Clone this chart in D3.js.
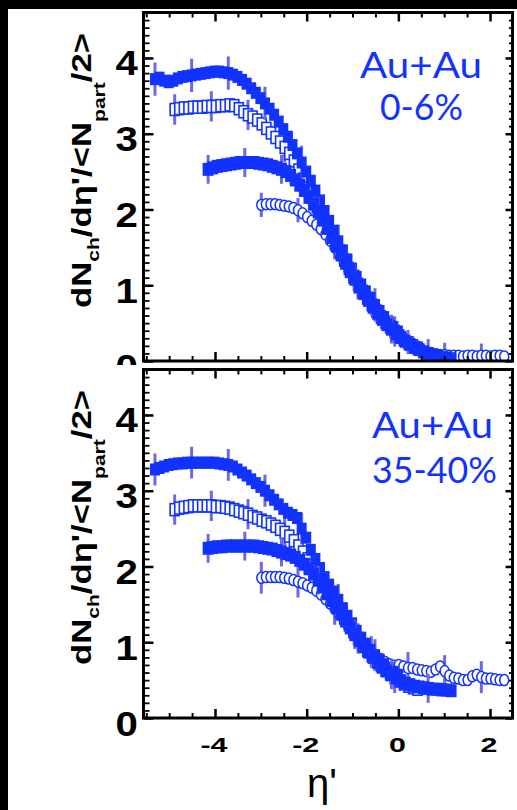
<!DOCTYPE html>
<html><head><meta charset="utf-8">
<script src="https://cdn.jsdelivr.net/npm/d3@7"></script>
<style>html,body{margin:0;padding:0;background:#000;overflow:hidden}</style>
</head><body>
<svg id="chart" width="517" height="810"></svg>
<script>
// ---------------- data ----------------
const seriesNames = ["200 GeV", "130 GeV", "62.4 GeV", "19.6 GeV"];
const startEta = [-5.31, -4.88, -4.15, -2.99];   // eta' of first bin per series
const binWidth = 0.1;
const errEvery = 8;                               // error bar on every 8th bin
const xMajorTicks = [-4, -2, 0, 2];
const xMinorTicks = [-5.5, -5, -4.5, -3.5, -3, -2.5, -1.5, -1, -0.5, 0.5, 1, 1.5];
const yMajorTicks = [0, 1, 2, 3, 4];
const yTickLabels = ["0", "1", "2", "3", "4"];
const xTickLabels = ["-4", "-2", "0", "2"];
const panelLabels = [["Au+Au", "0-6%"], ["Au+Au", "35-40%"]];

// Au+Au 0-6%
const central200 = [3.72,3.74,3.70,3.68,3.70,3.73,3.75,3.76,3.77,3.78,
  3.79,3.80,3.81,3.82,3.82,3.81,3.80,3.78,3.75,3.71,
  3.66,3.60,3.54,3.47,3.40,3.33,3.25,3.16,3.06,2.96,
  2.85,2.74,2.62,2.50,2.38,2.25,2.12,1.98,1.85,1.72,
  1.58,1.46,1.34,1.22,1.11,1.01,0.92,0.83,0.74,0.66,
  0.58,0.51,0.45,0.39];
const central130 = [3.32,3.33,3.34,3.34,3.35,3.35,3.35,3.36,3.36,3.36,
  3.37,3.37,3.38,3.37,3.33,3.29,3.25,3.22,3.18,3.13,
  3.07,3.01,2.95,2.89,2.82,2.74,2.64,2.52,2.40,2.28,
  2.16,2.04,1.92,1.80,1.68,1.56,1.45,1.33,1.22,1.11,
  1.01,0.92,0.83,0.74,0.66,0.58,0.51,0.45,0.39,0.33,
  0.28,0.24,0.20,0.17];
const central62 = [2.53,2.55,2.57,2.58,2.59,2.60,2.61,2.62,2.62,2.62,
  2.62,2.61,2.60,2.59,2.57,2.55,2.53,2.50,2.45,2.39,
  2.32,2.25,2.16,2.07,1.97,1.86,1.75,1.63,1.52,1.40,
  1.29,1.18,1.08,0.98,0.89,0.80,0.71,0.63,0.55,0.48,
  0.42,0.36,0.31,0.26,0.22,0.18,0.15,0.12,0.10,0.08,
  0.06,0.05,0.04,0.03];
const central19 = [2.06,2.07,2.07,2.07,2.06,2.05,2.04,2.02,1.99,1.95,
  1.90,1.85,1.80,1.74,1.67,1.59,1.50,1.41,1.31,1.21,
  1.11,1.02,0.93,0.84,0.76,0.68,0.60,0.53,0.46,0.40,
  0.35,0.30,0.25,0.21,0.18,0.15,0.12,0.10,0.09,0.08,
  0.08,0.07,0.07,0.07,0.06,0.07,0.07,0.06,0.07,0.07,
  0.06,0.07,0.07,0.06];
const centralErr = [0.22, 0.20, 0.19, 0.16];

// Au+Au 35-40%
const periph200 = [3.28,3.30,3.32,3.34,3.35,3.36,3.36,3.37,3.37,3.37,
  3.37,3.37,3.37,3.37,3.36,3.35,3.34,3.32,3.28,3.24,
  3.20,3.15,3.10,3.05,3.00,2.94,2.88,2.82,2.76,2.71,
  2.68,2.64,2.50,2.38,2.22,2.10,1.98,1.86,1.76,1.67,
  1.56,1.45,1.35,1.25,1.15,1.06,0.98,0.90,0.83,0.77,
  0.71,0.66,0.61,0.57];
const periph130 = [2.75,2.77,2.78,2.79,2.80,2.80,2.80,2.80,2.80,2.79,
  2.79,2.78,2.77,2.75,2.73,2.71,2.69,2.66,2.64,2.61,
  2.59,2.56,2.53,2.49,2.45,2.40,2.34,2.27,2.19,2.10,
  2.01,1.92,1.82,1.72,1.62,1.52,1.42,1.32,1.23,1.14,
  1.05,0.97,0.89,0.82,0.75,0.69,0.63,0.58,0.53,0.49,
  0.45,0.42,0.40,0.38];
const periph62 = [2.24,2.25,2.26,2.26,2.27,2.27,2.27,2.27,2.27,2.27,
  2.27,2.26,2.25,2.24,2.23,2.21,2.19,2.17,2.15,2.12,
  2.08,2.03,1.97,1.90,1.82,1.73,1.64,1.55,1.46,1.37,
  1.28,1.19,1.10,1.02,0.94,0.87,0.80,0.73,0.67,0.62,
  0.57,0.53,0.49,0.46,0.44,0.42,0.41,0.40,0.39,0.38,
  0.38,0.37,0.37,0.36];
const periph19 = [1.85,1.86,1.86,1.86,1.86,1.85,1.84,1.82,1.80,1.78,
  1.75,1.72,1.68,1.63,1.57,1.51,1.44,1.37,1.29,1.21,
  1.13,1.06,0.99,0.93,0.87,0.82,0.78,0.74,0.71,0.69,
  0.70,0.68,0.66,0.66,0.64,0.63,0.62,0.61,0.64,0.68,
  0.62,0.56,0.53,0.52,0.50,0.50,0.55,0.57,0.54,0.52,
  0.52,0.51,0.50,0.50];
const periphErr = [0.21, 0.20, 0.19, 0.21];

// ---------------- drawing ----------------
const markerColor = "#1232ff";
const errColor = "#6d68e6";
const svg = d3.select("#chart");
svg.append("rect").attr("x",0).attr("y",0).attr("width",517).attr("height",810).attr("fill","#000");
svg.append("rect").attr("x",8).attr("y",9).attr("width",509).attr("height",801).attr("fill","#fff");

const left = 143.5, right = 512.5;
const x = d3.scaleLinear().domain([-5.56, 2.49]).range([left, right]);

const panels = [
  {top: 12.5, bottom: 361, data: [central200, central130, central62, central19], err: centralErr,
   labels: panelLabels[0], lab: [[360,78,122],[380,120,83]], zeroClip: 365},
  {top: 369.5, bottom: 718, data: [periph200, periph130, periph62, periph19], err: periphErr,
   labels: panelLabels[1], lab: [[372,438,121],[372,483,125]], zeroClip: null}
];

const drawOrder = [1, 3, 0, 2];
const markerSize = [[10,12],[9,12],[11,13],[4.5,5.5]];

function fitScale(sel, target) {
  const w = sel.node().getBBox().width;
  return target / w;
}

panels.forEach((p, pi) => {
  const y = d3.scaleLinear().domain([0, 4.6]).range([p.bottom, p.top]);
  const clipId = "clip" + pi;
  svg.append("clipPath").attr("id", clipId).append("rect")
    .attr("x", left).attr("y", p.top).attr("width", right - left).attr("height", p.bottom - p.top);
  const plot = svg.append("g").attr("clip-path", `url(#${clipId})`);

  drawOrder.forEach(s => {
    const pts = p.data[s].map((v, i) => ({eta: startEta[s] + i * binWidth, v, i}));
    const e = p.err[s];
    const g = plot.append("g").attr("class", "series").attr("data-name", seriesNames[s]);
    g.selectAll("line.err").data(pts.filter(d => d.i % errEvery === 0)).join("line")
      .attr("class","err")
      .attr("x1", d => x(d.eta)).attr("x2", d => x(d.eta))
      .attr("y1", d => y(d.v - e)).attr("y2", d => y(d.v + e))
      .attr("stroke", errColor).attr("stroke-width", 3);
    const [w, h] = markerSize[s];
    if (s === 3) {
      g.selectAll("ellipse").data(pts).join("ellipse")
        .attr("cx", d => x(d.eta)).attr("cy", d => y(d.v))
        .attr("rx", w).attr("ry", h)
        .attr("fill", "#fff").attr("stroke", markerColor).attr("stroke-width", 1.5);
    } else {
      const open = s === 1;
      g.selectAll("rect").data(pts).join("rect")
        .attr("x", d => x(d.eta) - w / 2).attr("y", d => y(d.v) - h / 2)
        .attr("width", w).attr("height", h)
        .attr("fill", open ? "#fff" : markerColor)
        .attr("stroke", markerColor).attr("stroke-width", open ? 1.6 : 0);
    }
  });

  // frame
  svg.append("rect").attr("x", left).attr("y", p.top).attr("width", right - left)
    .attr("height", p.bottom - p.top).attr("fill", "none").attr("stroke", "#000").attr("stroke-width", 3);

  // ticks (inward, all four sides)
  const tickGroups = [
    [d3.axisBottom(x).tickValues(xMajorTicks).tickSize(-9), `translate(0,${p.bottom})`, 2.5],
    [d3.axisBottom(x).tickValues(xMinorTicks).tickSize(-5), `translate(0,${p.bottom})`, 2],
    [d3.axisTop(x).tickValues(xMajorTicks).tickSize(-9), `translate(0,${p.top})`, 2.5],
    [d3.axisTop(x).tickValues(xMinorTicks).tickSize(-5), `translate(0,${p.top})`, 2],
    [d3.axisLeft(y).tickValues(yMajorTicks).tickSize(-10), `translate(${left},0)`, 2.5],
    [d3.axisLeft(y).tickValues(d3.range(1, 46).map(k => k / 10)).tickSize(-6), `translate(${left},0)`, 1.8],
    [d3.axisRight(y).tickValues(yMajorTicks).tickSize(-7), `translate(${right},0)`, 2.5],
    [d3.axisRight(y).tickValues(d3.range(1, 46).map(k => k / 10)).tickSize(-3.5), `translate(${right},0)`, 1.8]
  ];
  tickGroups.forEach(([ax, tr, sw]) => {
    const g = svg.append("g").attr("transform", tr).call(ax.tickFormat(""));
    g.select(".domain").remove();
    g.selectAll("text").remove();
    g.selectAll("line").attr("stroke", "#000").attr("stroke-width", sw);
  });

  // y tick labels
  let labG = svg.append("g");
  if (p.zeroClip) {
    svg.append("clipPath").attr("id", "lc" + pi).append("rect")
      .attr("x", 0).attr("y", 0).attr("width", 142).attr("height", p.zeroClip);
    labG.attr("clip-path", `url(#lc${pi})`);
  }
  yMajorTicks.forEach((v, k) => {
    const g = labG.append("g");
    g.append("text").text(yTickLabels[k]).attr("text-anchor", "end")
      .attr("font-family", "Liberation Sans, Arial, sans-serif").attr("font-weight", "bold")
      .attr("font-size", 35).attr("fill", "#000");
    g.attr("transform", `translate(138,${y(v) + 17.5}) scale(1.15,1)`);
  });

  // y axis title
  const cy = p.top + 158;
  const tg = svg.append("g");
  const tt = tg.append("text").attr("text-anchor", "middle")
    .attr("font-family", "Liberation Sans, Arial, sans-serif").attr("font-weight", "bold")
    .attr("font-size", 28).attr("fill", "#000");
  tt.append("tspan").text("dN");
  tt.append("tspan").text("ch").attr("font-size", 17).attr("dy", 8);
  tt.append("tspan").text("/dη'/<N").attr("dy", -8);
  tt.append("tspan").text("part").attr("font-size", 17).attr("dy", 14);
  tt.append("tspan").text("/2>").attr("dy", -14);
  const sTitle = fitScale(tt, 275);
  tg.attr("transform", `translate(91,${cy}) rotate(-90) scale(${sTitle},1)`);

  // panel annotation
  p.labels.forEach((txt, k) => {
    const [lx, ly, lw] = p.lab[k];
    const g = svg.append("g");
    const t = g.append("text").text(txt).attr("text-anchor", "start")
      .attr("font-family", "Lato, 'Open Sans', sans-serif")
      .attr("font-size", 36).attr("fill", markerColor);
    const s = fitScale(t, lw);
    g.attr("transform", `translate(${lx},${ly}) scale(${s},1)`);
  });
});

// x tick labels (bottom panel only)
xMajorTicks.forEach((v, k) => {
  const g = svg.append("g");
  g.append("text").text(xTickLabels[k]).attr("text-anchor", "middle")
    .attr("font-family", "Liberation Sans, Arial, sans-serif").attr("font-weight", "bold")
    .attr("font-size", 21).attr("fill", "#000");
  g.attr("transform", `translate(${x(v) - 1},752) scale(1.45,1)`);
});

// x axis title
svg.append("text").text("η'").attr("x", 322).attr("y", 797).attr("text-anchor", "middle")
  .attr("font-family", "Liberation Sans, Arial, sans-serif").attr("font-size", 40).attr("fill", "#000");
</script>
</body></html>
